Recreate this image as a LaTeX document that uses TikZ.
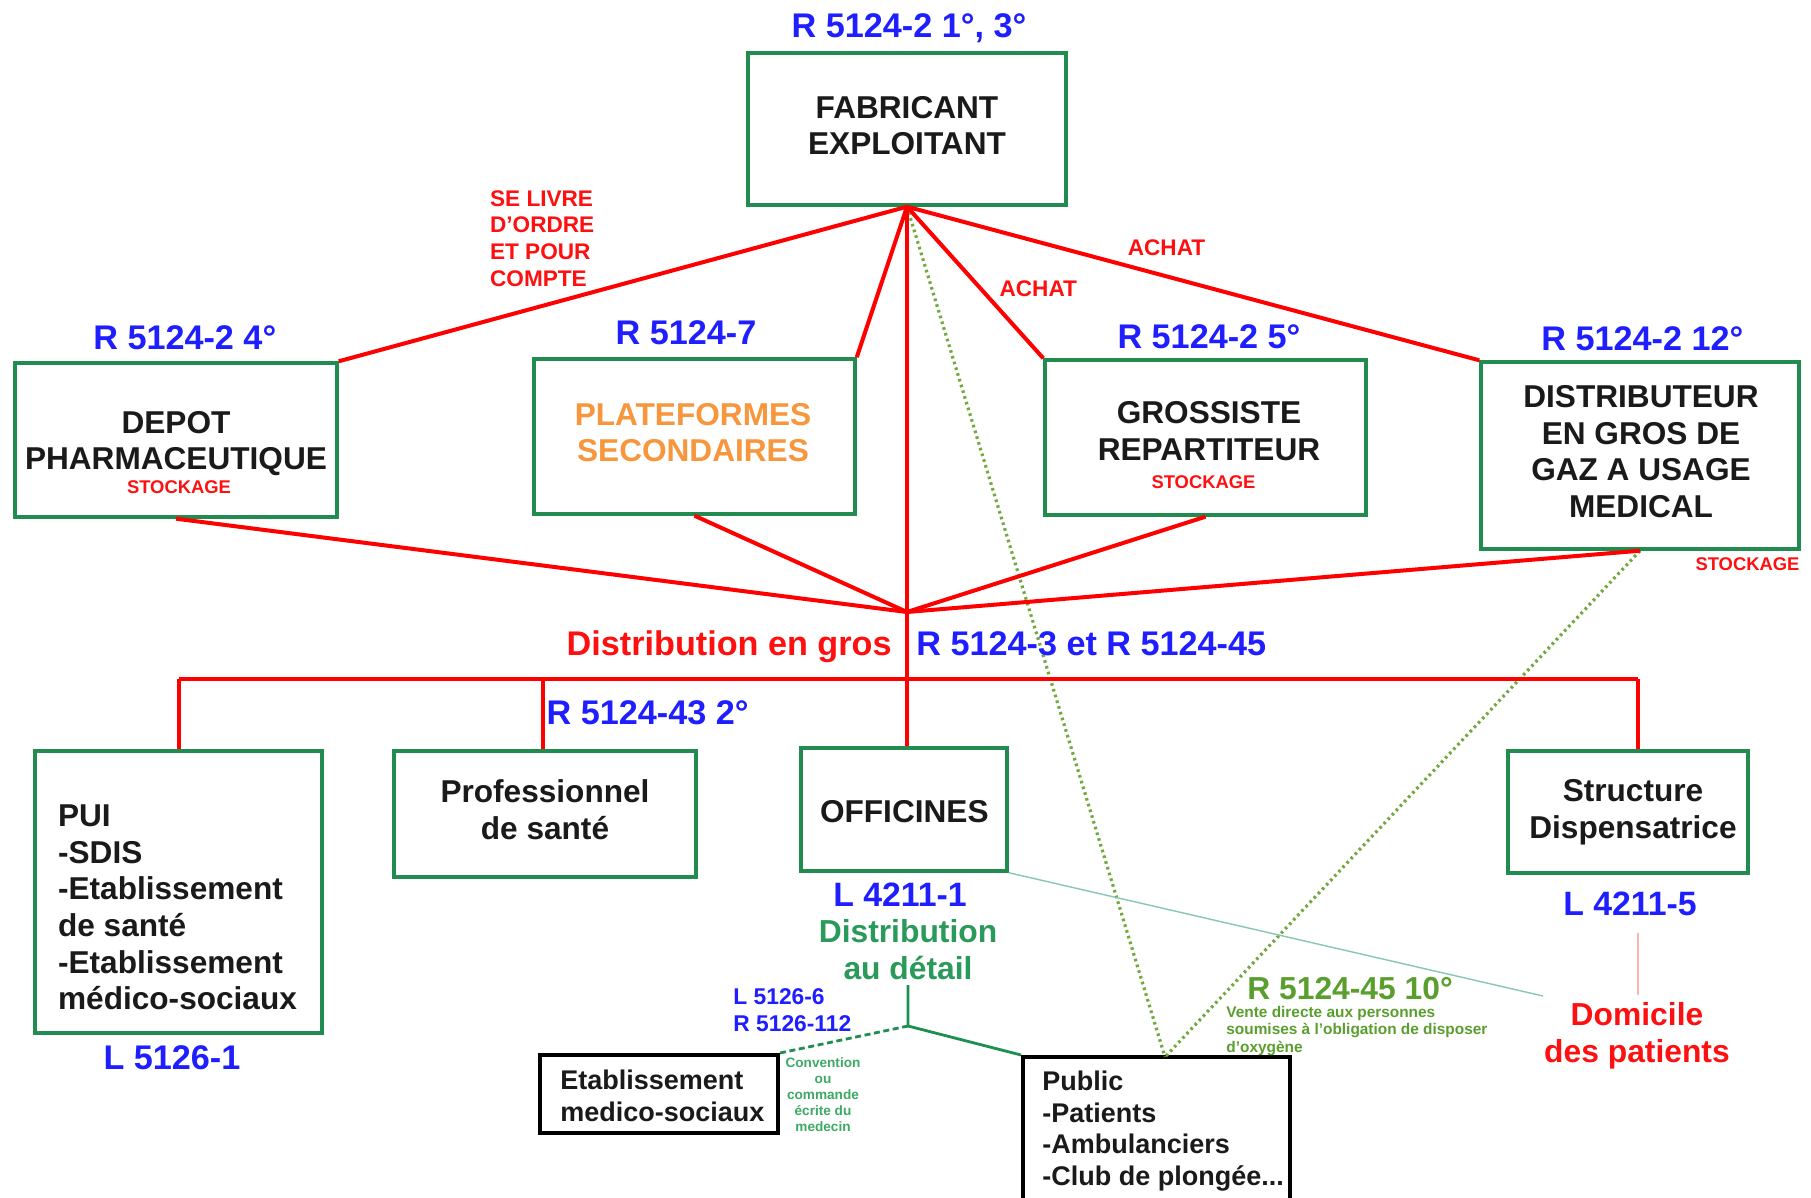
\documentclass[tikz,border=0pt]{standalone}
\usepackage{fontspec}
\setmainfont{Liberation Sans}
\definecolor{gb}{HTML}{228B50}
\definecolor{lblue}{HTML}{1E1EFF}
\definecolor{org}{HTML}{F7963C}
\definecolor{cOlive}{HTML}{72A83E}
\definecolor{cOliveT}{HTML}{5A9E2E}
\definecolor{dgreen}{HTML}{1E8F50}
\definecolor{dtext}{HTML}{2A9A5A}
\definecolor{conv}{HTML}{3CAA64}
\definecolor{cTeal}{HTML}{86C8B0}
\definecolor{cPink}{HTML}{FFB4B4}
\definecolor{txt}{HTML}{1A1A1A}
\definecolor{cRed}{HTML}{FF1010}
\begin{document}
\begin{tikzpicture}[x=0.5pt,y=-0.5pt,
  gbox/.style={draw=gb, line width=1.7pt, inner sep=0pt},
  kbox/.style={draw=black, line width=2pt, inner sep=0pt},
  bt/.style={inner sep=0pt, text=txt, font=\fontsize{15.8}{18.3}\selectfont\bfseries},
  kt/.style={inner sep=0pt, text=txt, font=\fontsize{13.5}{15.8}\selectfont\bfseries},
  lb/.style={inner sep=0pt, anchor=base, text=lblue, font=\fontsize{17.1}{20}\selectfont\bfseries},
  rsm/.style={inner sep=0pt, text=cRed, font=\fontsize{11.3}{13.3}\selectfont\bfseries},
  stk/.style={inner sep=0pt, anchor=base, text=cRed, font=\fontsize{9.2}{11}\selectfont\bfseries},
  redl/.style={draw=red, line width=2pt},
  dotl/.style={draw=cOlive, line width=1.6pt, dash pattern=on 1.3pt off 1.7pt},
  gl/.style={draw=dgreen, line width=1.4pt}
]
\useasboundingbox (0,0) rectangle (1811,1198);
\fill[white] (0,0) rectangle (1811,1198);
\clip (0,0) rectangle (1811,1198);

% boxes
\node[gbox, minimum width=159pt, minimum height=76pt] (fab) at (907,129) {};
\node[gbox, minimum width=161pt, minimum height=77pt] (dep) at (176,440) {};
\node[gbox, minimum width=160.5pt, minimum height=77.5pt] (plat) at (694.5,436.5) {};
\node[gbox, minimum width=160.5pt, minimum height=77.5pt] (gros) at (1205.5,437.5) {};
\node[gbox, minimum width=159pt, minimum height=93.5pt] (dist) at (1640,455.5) {};
\node[gbox, minimum width=143.5pt, minimum height=141pt] (pui) at (178.5,892) {};
\node[gbox, minimum width=151pt, minimum height=63pt] (prof) at (545,814) {};
\node[gbox, minimum width=103pt, minimum height=61.5pt] (off) at (904,809.5) {};
\node[gbox, minimum width=120pt, minimum height=61pt] (str) at (1628,812) {};
\node[kbox, minimum width=119pt, minimum height=39pt] (etab) at (659,1094) {};
\node[kbox, minimum width=133.5pt, minimum height=91.5pt] (pub) at (1156.5,1148.5) {};

% coordinates
\coordinate (hub) at (907,612);
\coordinate (barL) at (179,679);
\coordinate (barP) at (543,679);
\coordinate (barR) at (1638,679);
\coordinate (pubTop) at (1165,1057);
\coordinate (domEnd) at (1543,996);
\coordinate (pkA) at (1638,933);
\coordinate (pkB) at (1638,995);
\coordinate (dvTop) at (908,985);
\coordinate (dvBot) at (908,1026);

% green dotted
\draw[dotl] (fab.south) -- (pubTop);
\draw[dotl] (dist.south) -- (pubTop);

% red lines
\draw[redl] (fab.south) -- (dep.north east);
\draw[redl] (fab.south) -- (plat.north east);
\draw[redl] (fab.south) -- (gros.north west);
\draw[redl] (fab.south) -- (dist.north west);
\draw[redl] (fab.south) -- (hub) -- (hub |- off.north);
\draw[redl] (dep.south) -- (hub);
\draw[redl] (plat.south) -- (hub);
\draw[redl] (gros.south) -- (hub);
\draw[redl] (dist.south) -- (hub);
\draw[redl] (barL) -- (barR);
\draw[redl] (barL) -- (barL |- pui.north);
\draw[redl] (barP) -- (barP |- prof.north);
\draw[redl] (barR) -- (barR |- str.north);

% thin lines
\draw[draw=cTeal, line width=0.7pt] (off.south east) -- (domEnd);
\draw[draw=cPink, line width=0.8pt] (pkA) -- (pkB);

% green retail lines
\draw[gl] (dvTop) -- (dvBot) -- (pub.north west);
\draw[gl, dash pattern=on 3pt off 1.8pt] (dvBot) -- (etab.north east);

% box texts
\node[bt, align=center] (fabT) at (907,125.5) {FABRICANT\\EXPLOITANT};
\node[bt, align=center] (depT) at (176,443.5) {DEPOT\\PHARMACEUTIQUE};
\node[stk] (depS) at (179,494) {STOCKAGE};
\node[bt, align=center, text=org] (platT) at (693,432.5) {PLATEFORMES\\SECONDAIRES};
\node[bt, align=center] (grosT) at (1209,431) {GROSSISTE\\REPARTITEUR};
\node[stk] (grosS) at (1203.5,488.2) {STOCKAGE};
\node[bt, align=center] (distT) at (1641,451.5) {DISTRIBUTEUR\\EN GROS DE\\GAZ A USAGE\\MEDICAL};
\node[stk] (distS) at (1747.5,570.2) {STOCKAGE};
\node[bt, align=left, anchor=west] (puiT) at (57.7,907.5) {PUI\\-SDIS\\-Etablissement\\de santé\\-Etablissement\\médico-sociaux};
\node[bt, align=center] (profT) at (545,810) {Professionnel\\de santé};
\node[bt, anchor=base] (offT) at (904.3,822.1) {OFFICINES};
\node[bt, align=center] (strT) at (1633,812) {Structure\\Dispensatrice};
\node[kt, align=left, anchor=west] (etabT) at (560,1096) {Etablissement\\medico-sociaux};
\node[kt, align=left, anchor=west] (pubT) at (1042,1131) {Public\\-Patients\\-Ambulanciers\\-Club de plongée...};

% blue references
\node[lb] (rFab) at (909,38) {R 5124-2 1°, 3°};
\node[lb] (rDep) at (184.8,349.5) {R 5124-2 4°};
\node[lb] (rPlat) at (686,344.8) {R 5124-7};
\node[lb] (rGros) at (1209,348.2) {R 5124-2 5°};
\node[lb] (rDist) at (1642.4,350.6) {R 5124-2 12°};
\node[lb, anchor=base east, text=cRed] (dgros) at (892,655) {Distribution en gros};
\node[lb, anchor=base west] (rGros3) at (916,655) {R 5124-3 et R 5124-45};
\node[lb, anchor=base west] (rProf) at (546.3,724.8) {R 5124-43 2°};
\node[lb] (rPui) at (172,1069) {L 5126-1};
\node[lb, font=\fontsize{16.9}{20}\selectfont\bfseries] (rOff) at (900,906.6) {L 4211-1};
\node[lb, font=\fontsize{16.9}{20}\selectfont\bfseries] (rStr) at (1630,915) {L 4211-5};

% red small labels
\node[rsm, align=left, anchor=west] (livre) at (489.7,238.5) {SE LIVRE\\D'ORDRE\\ET POUR\\COMPTE};
\node[rsm, anchor=base] (achat1) at (1038.3,297) {ACHAT};
\node[rsm, anchor=base] (achat2) at (1166.5,255.4) {ACHAT};

% retail texts
\node[inner sep=0pt, align=center, text=dtext, font=\fontsize{15.9}{18.3}\selectfont\bfseries] (detail) at (908,949.5) {Distribution\\au détail};
\node[inner sep=0pt, align=left, anchor=west, text=lblue, font=\fontsize{11.4}{13.5}\selectfont\bfseries] (lEtab) at (733,1010.5) {L 5126-6\\R 5126-112};
\node[inner sep=0pt, align=center, text=conv, font=\fontsize{6.8}{8}\selectfont\bfseries] (convT) at (823,1095) {Convention\\ou\\commande\\écrite du\\medecin};
\node[inner sep=0pt, anchor=base west, text=cOliveT, font=\fontsize{15.9}{18}\selectfont\bfseries] (r10) at (1247,999.4) {R 5124-45 10°};
\node[inner sep=0pt, align=left, anchor=west, text=cOliveT, font=\fontsize{7.7}{8.8}\selectfont\bfseries] (vente) at (1226,1031) {Vente directe aux personnes\\soumises à l'obligation de disposer\\d'oxygène};
\node[inner sep=0pt, align=center, text=cRed, font=\fontsize{15.9}{18.3}\selectfont\bfseries] (dom) at (1637,1036) {Domicile\\des patients};
\end{tikzpicture}
\end{document}
